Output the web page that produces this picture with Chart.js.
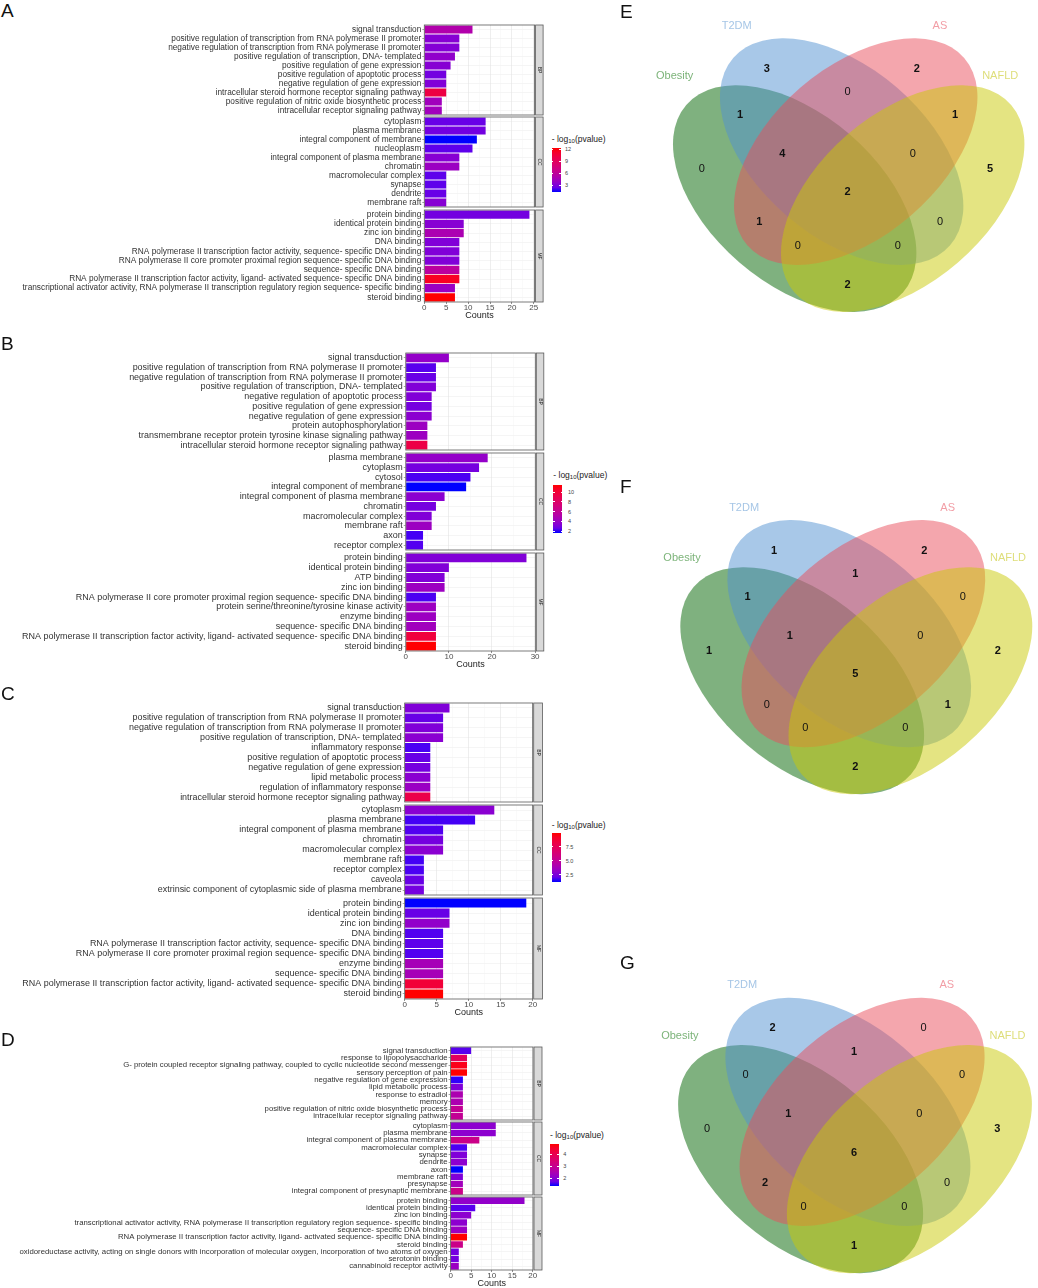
<!DOCTYPE html>
<html>
<head>
<meta charset="utf-8">
<script src="https://cdn.jsdelivr.net/npm/chart.js@4.4.1/dist/chart.umd.min.js"></script>
<style>
  body { margin: 0; width: 1038px; height: 1288px; position: relative; background: #fff; overflow: hidden;
         font-family: "Liberation Sans", Arial, Helvetica, sans-serif; }
  canvas { position: absolute; }
  .letter { position: absolute; font-size: 19px; line-height: 19px; color: #111; }
  .legt { position: absolute; font-size: 8.5px; line-height: 10px; color: #222; white-space: nowrap; }
  .legt sub { font-size: 6px; vertical-align: -1px; }
  .bar { position: absolute; }
  .legn { position: absolute; font-size: 5.5px; line-height: 6px; color: #444; }
  .wt { position: absolute; height: 0.6px; background: #fff; }
</style>
</head>
<body>
<script>
const FONT = '"Liberation Sans", Arial, Helvetica, sans-serif';
Chart.defaults.font.family = FONT;

// ---------- panel A ----------
const aBP = ['signal transduction', 'positive regulation of transcription from RNA polymerase II promoter',
  'negative regulation of transcription from RNA polymerase II promoter', 'positive regulation of transcription, DNA- templated',
  'positive regulation of gene expression', 'positive regulation of apoptotic process', 'negative regulation of gene expression',
  'intracellular steroid hormone receptor signaling pathway', 'positive regulation of nitric oxide biosynthetic process',
  'intracellular receptor signaling pathway'];
const aBPn = [11, 8, 8, 7, 6, 5, 5, 5, 4, 4];
const aBPp = [5.2, 3.3, 3.2, 3.7, 3.3, 2.7, 3.1, 10.2, 4.4, 4.4];
const aCC = ['cytoplasm', 'plasma membrane', 'integral component of membrane', 'nucleoplasm', 'integral component of plasma membrane',
  'chromatin', 'macromolecular complex', 'synapse', 'dendrite', 'membrane raft'];
const aCCn = [14, 14, 12, 11, 8, 8, 5, 5, 5, 5];
const aCCp = [2.4, 2.7, 1.3, 2.2, 3.3, 4.1, 2.2, 2.2, 2.4, 3.3];
const aMF = ['protein binding', 'identical protein binding', 'zinc ion binding', 'DNA binding',
  'RNA polymerase II transcription factor activity, sequence- specific DNA binding',
  'RNA polymerase II core promoter proximal region sequence- specific DNA binding', 'sequence- specific DNA binding',
  'RNA polymerase II transcription factor activity, ligand- activated sequence- specific DNA binding',
  'transcriptional activator activity, RNA polymerase II transcription regulatory region sequence- specific binding', 'steroid binding'];
const aMFn = [24, 9, 9, 8, 8, 8, 8, 8, 7, 7];
const aMFp = [2.7, 3.3, 4.9, 3.1, 3.1, 3.1, 5.8, 11.6, 4.1, 12.4];
const aLegend = ['3', '6', '9', '12'];

// ---------- panel B ----------
const bBP = ['signal transduction', 'positive regulation of transcription from RNA polymerase II promoter',
  'negative regulation of transcription from RNA polymerase II promoter', 'positive regulation of transcription, DNA- templated',
  'negative regulation of apoptotic process', 'positive regulation of gene expression', 'negative regulation of gene expression',
  'protein autophosphorylation', 'transmembrane receptor protein tyrosine kinase signaling pathway',
  'intracellular steroid hormone receptor signaling pathway'];
const bBPn = [10, 7, 7, 7, 6, 6, 6, 5, 5, 5];
const bBPp = [3.8, 2.3, 2.6, 3.2, 3.2, 2.9, 3.5, 4.1, 4.1, 9.4];
const bCC = ['plasma membrane', 'cytoplasm', 'cytosol', 'integral component of membrane', 'integral component of plasma membrane',
  'chromatin', 'macromolecular complex', 'membrane raft', 'axon', 'receptor complex'];
const bCCn = [19, 17, 15, 14, 9, 7, 6, 6, 4, 4];
const bCCp = [3.8, 2.9, 2.1, 1.6, 3.5, 2.9, 3.2, 4.1, 2.0, 2.2];
const bMF = ['protein binding', 'identical protein binding', 'ATP binding', 'zinc ion binding',
  'RNA polymerase II core promoter proximal region sequence- specific DNA binding', 'protein serine/threonine/tyrosine kinase activity',
  'enzyme binding', 'sequence- specific DNA binding',
  'RNA polymerase II transcription factor activity, ligand- activated sequence- specific DNA binding', 'steroid binding'];
const bMFn = [28, 10, 9, 9, 7, 7, 7, 7, 7, 7];
const bMFp = [3.2, 3.2, 3.2, 4.1, 2.1, 4.1, 4.1, 4.3, 9.7, 11.4];
const bLegend = ['2', '4', '6', '8', '10'];

// ---------- panel C ----------
const cBP = ['signal transduction', 'positive regulation of transcription from RNA polymerase II promoter',
  'negative regulation of transcription from RNA polymerase II promoter', 'positive regulation of transcription, DNA- templated',
  'inflammatory response', 'positive regulation of apoptotic process', 'negative regulation of gene expression',
  'lipid metabolic process', 'regulation of inflammatory response', 'intracellular steroid hormone receptor signaling pathway'];
const cBPn = [7, 6, 6, 6, 4, 4, 4, 4, 4, 4];
const cBPp = [2.63, 2.12, 2.63, 2.89, 1.68, 2.12, 2.37, 2.89, 3.41, 7.99];
const cCC = ['cytoplasm', 'plasma membrane', 'integral component of plasma membrane', 'chromatin', 'macromolecular complex',
  'membrane raft', 'receptor complex', 'caveola', 'extrinsic component of cytoplasmic side of plasma membrane'];
const cCCn = [14, 11, 6, 6, 6, 3, 3, 3, 3];
const cCCp = [2.89, 1.6, 1.77, 2.37, 2.89, 1.6, 1.68, 2.12, 2.37];
const cMF = ['protein binding', 'identical protein binding', 'zinc ion binding', 'DNA binding',
  'RNA polymerase II transcription factor activity, sequence- specific DNA binding',
  'RNA polymerase II core promoter proximal region sequence- specific DNA binding', 'enzyme binding', 'sequence- specific DNA binding',
  'RNA polymerase II transcription factor activity, ligand- activated sequence- specific DNA binding', 'steroid binding'];
const cMFn = [19, 7, 7, 6, 6, 6, 6, 6, 6, 6];
const cMFp = [1.25, 2.12, 3.15, 1.77, 1.94, 1.77, 3.85, 3.85, 8.6, 9.9];
const cLegend = ['2.5', '5.0', '7.5'];

// ---------- panel D ----------
const dBP = ['signal transduction', 'response to lipopolysaccharide',
  'G- protein coupled receptor signaling pathway, coupled to cyclic nucleotide second messenger', 'sensory perception of pain',
  'negative regulation of gene expression', 'lipid metabolic process', 'response to estradiol', 'memory',
  'positive regulation of nitric oxide biosynthetic process', 'intracellular receptor signaling pathway'];
const dBPn = [5, 4, 4, 4, 3, 3, 3, 3, 3, 3];
const dBPp = [1.64, 3.82, 4.69, 4.86, 1.47, 1.95, 2.54, 2.54, 2.96, 2.96];
const dCC = ['cytoplasm', 'plasma membrane', 'integral component of plasma membrane', 'macromolecular complex', 'synapse',
  'dendrite', 'axon', 'membrane raft', 'presynapse', 'integral component of presynaptic membrane'];
const dCCn = [11, 11, 7, 4, 4, 4, 3, 3, 3, 3];
const dCCp = [2.09, 2.09, 3.13, 1.57, 1.95, 2.09, 1.4, 1.95, 2.37, 3.13];
const dMF = ['protein binding', 'identical protein binding', 'zinc ion binding',
  'transcriptional activator activity, RNA polymerase II transcription regulatory region sequence- specific binding',
  'sequence- specific DNA binding',
  'RNA polymerase II transcription factor activity, ligand- activated sequence- specific DNA binding', 'steroid binding',
  'oxidoreductase activity, acting on single donors with incorporation of molecular oxygen, incorporation of two atoms of oxygen',
  'serotonin binding', 'cannabinoid receptor activity'];
const dMFn = [18, 6, 5, 4, 4, 4, 3, 2, 2, 2];
const dMFp = [2.16, 1.64, 2.09, 2.09, 2.27, 4.86, 3.13, 1.85, 1.85, 2.27];
const dLegend = ['2', '3', '4'];

// ---------- Venn counts ----------
// region order: T2DM, AS, Obesity, NAFLD only; T2DM&AS; Obesity&T2DM; AS&NAFLD; Ob&T2DM&AS; T2DM&AS&NAFLD;
// all four; Ob&AS; T2DM&NAFLD; Ob&AS&NAFLD; Ob&T2DM&NAFLD; Ob&NAFLD
const vennSets = ['Obesity', 'T2DM', 'AS', 'NAFLD'];
const vennE = [3, 2, 0, 5, 0, 1, 1, 4, 0, 2, 1, 0, 0, 0, 2];
const vennF = [1, 2, 1, 2, 1, 1, 0, 1, 0, 5, 0, 1, 0, 0, 2];
const vennG = [2, 0, 0, 3, 1, 0, 0, 1, 0, 6, 2, 0, 0, 0, 1];

// ---------- layout ----------
const LAY = {
  A: { plotL: 424.3, plotR: 534.6, stripR: 543.1, xMax: 25.18, step: 2.5, major: 5, labelStart: 21.5,
       facets: [[25, 115], [117.3, 207.3], [210, 300.7]], letterTop: 0.8,
       leg: { x: 551.7, top: 147.7, bot: 192.3, titleY: 139, tickX: 565 } },
  B: { plotL: 405.8, plotR: 535.3, stripR: 543.8, xMax: 30.05, step: 5, major: 10, labelStart: 21.5,
       facets: [[353.3, 450], [453.3, 550], [553.3, 650]], letterTop: 334,
       leg: { x: 553.3, top: 485, bot: 533.3, titleY: 475, tickX: 568 } },
  C: { plotL: 404.7, plotR: 532.7, stripR: 542.4, xMax: 20, step: 2.5, major: 5, labelStart: 22.2,
       facets: [[702.7, 802], [805.3, 895.3], [898, 998]], letterTop: 684,
       leg: { x: 551.7, top: 833.3, bot: 881.7, titleY: 825, tickX: 565.7 } },
  D: { plotL: 450.6, plotR: 533, stripR: 542, xMax: 20.07, step: 2.5, major: 5, labelStart: 19.2,
       facets: [[1047.3, 1120], [1122, 1194.7], [1196.7, 1269.3]], letterTop: 1029.5,
       leg: { x: 550, top: 1144, bot: 1185.7, titleY: 1135, tickX: 563.3 } }
};
const VLAY = {
  E: { left: 630, top: 0, w: 408, h: 330, cx: 848.7, y17: 311.7, s: 391.4, letterTop: 1.5 },
  F: { left: 630, top: 470, w: 408, h: 340, cx: 856.3, y17: 794, s: 392, letterTop: 476.5 },
  G: { left: 630, top: 960, w: 408, h: 328, cx: 855, y17: 1273, s: 394, letterTop: 952.5 }
};
const VENN_FILL = ['rgba(0,100,0,0.5)', 'rgba(81,145,209,0.5)', 'rgba(233,77,91,0.5)', 'rgba(201,201,5,0.5)'];
const VENN_TEXT = ['#7db47a', '#a6c6e6', '#f29ea6', '#dede7a'];
// centre x, centre y, tilt sign (+1 = "\" , -1 = "/")
const ELLIPSES = [[0.362, 0.459, 1], [0.482, 0.579, 1], [0.518, 0.579, -1], [0.638, 0.459, -1]];
const EA = 0.366, EB = 0.216, TILT = 40.8 * Math.PI / 180;
const CAT_XY = [[0.0554, 0.771], [0.2138, 0.9], [0.733, 0.9], [0.887, 0.771]];
const REGION_XY = [[0.2905, 0.7908], [0.6738, 0.7908], [0.1244, 0.5346], [0.8612, 0.5346], [0.4974, 0.7319],
  [0.2223, 0.6721], [0.7717, 0.6721], [0.3305, 0.5739], [0.6635, 0.5739], [0.4974, 0.4757],
  [0.2717, 0.398], [0.7334, 0.398], [0.3697, 0.3382], [0.6252, 0.3382], [0.4974, 0.2383]];

// blue -> red in Lab space, like ggplot's gradient
function lin(c) { c /= 255; return c <= 0.04045 ? c / 12.92 : Math.pow((c + 0.055) / 1.055, 2.4); }
function gam(c) { const v = c <= 0.0031308 ? 12.92 * c : 1.055 * Math.pow(c, 1 / 2.4) - 0.055; return Math.round(Math.max(0, Math.min(1, v)) * 255); }
function toLab(r, g, b) {
  const R = lin(r), G = lin(g), B = lin(b);
  const X = (0.4124 * R + 0.3576 * G + 0.1805 * B) / 0.95047, Y = 0.2126 * R + 0.7152 * G + 0.0722 * B,
        Z = (0.0193 * R + 0.1192 * G + 0.9505 * B) / 1.08883;
  const f = t => t > 0.008856 ? Math.cbrt(t) : 7.787 * t + 16 / 116;
  return [116 * f(Y) - 16, 500 * (f(X) - f(Y)), 200 * (f(Y) - f(Z))];
}
function fromLab(L, a, b) {
  const fy = (L + 16) / 116, fx = fy + a / 500, fz = fy - b / 200;
  const fi = t => t * t * t > 0.008856 ? t * t * t : (t - 16 / 116) / 7.787;
  const X = fi(fx) * 0.95047, Y = fi(fy), Z = fi(fz) * 1.08883;
  return 'rgb(' + gam(3.2406 * X - 1.5372 * Y - 0.4986 * Z) + ',' + gam(-0.9689 * X + 1.8758 * Y + 0.0415 * Z) + ',' +
         gam(0.0557 * X - 0.2040 * Y + 1.0570 * Z) + ')';
}
const LOW = toLab(0, 0, 255), HIGH = toLab(255, 0, 0);
function gradient(t) {
  return fromLab(LOW[0] + (HIGH[0] - LOW[0]) * t, LOW[1] + (HIGH[1] - LOW[1]) * t, LOW[2] + (HIGH[2] - LOW[2]) * t);
}

const mctx = document.createElement('canvas').getContext('2d');
function fitFont(labels, width) {
  mctx.font = '10px ' + FONT;
  const w = Math.max(...labels.map(l => mctx.measureText(l).width));
  return 10 * width / w;
}

function addDiv(cls, left, top, html) {
  const d = document.createElement('div');
  d.className = cls; d.style.left = left + 'px'; d.style.top = top + 'px';
  if (html !== undefined) d.innerHTML = html;
  document.body.appendChild(d);
  return d;
}

const facetFrame = (name, stripW) => ({
  id: 'frame',
  afterDatasetsDraw(chart) {
    const { ctx, chartArea: a } = chart;
    ctx.save();
    ctx.strokeStyle = '#5a5a5a'; ctx.lineWidth = 0.8;
    ctx.strokeRect(a.left, a.top, a.right - a.left, a.bottom - a.top);
    const sx = a.right + 1;
    ctx.fillStyle = '#d9d9d9';
    ctx.fillRect(sx, a.top, stripW, a.bottom - a.top);
    ctx.strokeRect(sx, a.top, stripW, a.bottom - a.top);
    ctx.translate(sx + stripW / 2, (a.top + a.bottom) / 2);
    ctx.rotate(Math.PI / 2);
    ctx.fillStyle = '#1a1a1a'; ctx.font = '5px ' + FONT;
    ctx.textAlign = 'center'; ctx.textBaseline = 'middle';
    ctx.fillText(name, 0, 0);
    ctx.restore();
  }
});

function facetChart(P, f, i, last, fs, lo, hi) {
  const [t0, t1] = P.facets[i];
  const cv = document.createElement('canvas');
  cv.width = Math.ceil(P.stripR + 2);
  cv.height = Math.round(t1) - Math.round(t0) + 2 + (last ? 19 : 0);
  cv.style.left = '0px'; cv.style.top = (Math.round(t0) - 1) + 'px';
  document.body.appendChild(cv);
  const isMajor = v => Math.abs(v / P.major - Math.round(v / P.major)) < 1e-6;
  const isStep = v => Math.abs(v / P.step - Math.round(v / P.step)) < 1e-6;
  new Chart(cv, {
    type: 'bar',
    data: {
      labels: f.t,
      datasets: [{ data: f.n, backgroundColor: f.p.map(v => gradient((v - lo) / (hi - lo))),
                   borderWidth: 0, barPercentage: 0.9, categoryPercentage: 1 }]
    },
    options: {
      indexAxis: 'y', responsive: false, animation: false, events: [],
      layout: { padding: { top: 1, bottom: last ? 0 : 1, left: 0, right: cv.width - P.plotR } },
      plugins: { legend: { display: false }, tooltip: { enabled: false } },
      scales: {
        y: {
          type: 'category', offset: true,
          grid: { offset: false, color: '#ebebeb', lineWidth: 0.5, tickLength: 2, tickColor: '#444' },
          border: { display: false },
          ticks: { autoSkip: false, font: { size: fs, lineHeight: 1 }, color: '#333', padding: 1 },
          afterFit: s => { s.width = P.plotL; s.paddingTop = 0; s.paddingBottom = 0; }
        },
        x: {
          type: 'linear', min: 0, max: P.xMax,
          grid: {
            color: c => !isStep(c.tick.value) ? 'rgba(0,0,0,0)' : isMajor(c.tick.value) ? '#e2e2e2' : '#f2f2f2',
            lineWidth: c => isMajor(c.tick.value) ? 0.6 : 0.4,
            drawTicks: last, tickLength: 2,
            tickColor: c => isMajor(c.tick.value) ? '#444' : 'rgba(0,0,0,0)'
          },
          border: { display: false },
          ticks: {
            display: last, stepSize: P.step, includeBounds: false, autoSkip: false, maxRotation: 0,
            font: { size: 8, lineHeight: 1 }, color: '#4d4d4d', padding: 0,
            callback: v => isMajor(v) ? v : ''
          },
          title: { display: last, text: 'Counts', color: '#222', font: { size: 9, lineHeight: 1.2 }, padding: { top: 0, bottom: 0 } },
          afterFit: s => { s.height = last ? 19 : 0; s.paddingLeft = 0; s.paddingRight = 0; }
        }
      }
    },
    plugins: [facetFrame(f.name, P.stripR - P.plotR - 1)]
  });
}

function legend(P, lo, hi, ticks) {
  const L = P.leg;
  addDiv('legt', L.x, L.titleY - 5, '- log<sub>10</sub>(pvalue)');
  const bar = addDiv('bar', L.x, L.top);
  const stops = [];
  for (let k = 0; k <= 10; k++) stops.push(gradient(k / 10));
  bar.style.width = '9px'; bar.style.height = (L.bot - L.top) + 'px';
  bar.style.background = 'linear-gradient(to top, ' + stops.join(',') + ')';
  ticks.forEach(s => {
    const y = L.bot - (parseFloat(s) - lo) / (hi - lo) * (L.bot - L.top);
    addDiv('legn', L.tickX, y - 3, s);
    [0, 7.2].forEach(dx => { const w = addDiv('wt', L.x + dx, y - 0.3); w.style.width = '1.8px'; });
  });
}

function panel(key, facets, ticks) {
  const P = LAY[key];
  const all = facets.flatMap(f => f.p);
  const lo = Math.min(...all), hi = Math.max(...all);
  const fs = fitFont(facets.flatMap(f => f.t), P.plotL - 3 - P.labelStart);
  facets.forEach((f, i) => facetChart(P, f, i, i === facets.length - 1, fs, lo, hi));
  legend(P, lo, hi, ticks);
  addDiv('letter', 1, P.letterTop, key);
}

panel('A', [{ name: 'BP', t: aBP, n: aBPn, p: aBPp }, { name: 'CC', t: aCC, n: aCCn, p: aCCp }, { name: 'MF', t: aMF, n: aMFn, p: aMFp }], aLegend);
panel('B', [{ name: 'BP', t: bBP, n: bBPn, p: bBPp }, { name: 'CC', t: bCC, n: bCCn, p: bCCp }, { name: 'MF', t: bMF, n: bMFn, p: bMFp }], bLegend);
panel('C', [{ name: 'BP', t: cBP, n: cBPn, p: cBPp }, { name: 'CC', t: cCC, n: cCCn, p: cCCp }, { name: 'MF', t: cMF, n: cMFn, p: cMFp }], cLegend);
panel('D', [{ name: 'BP', t: dBP, n: dBPn, p: dBPp }, { name: 'CC', t: dCC, n: dCCn, p: dCCp }, { name: 'MF', t: dMF, n: dMFn, p: dMFp }], dLegend);

// ---------- Venn diagrams ----------
const vennDraw = counts => ({
  id: 'venn',
  beforeDatasetsDraw(chart) {
    const { ctx, scales: { x, y } } = chart;
    const ux = x.getPixelForValue(1) - x.getPixelForValue(0);
    const uy = y.getPixelForValue(0) - y.getPixelForValue(1);
    ctx.save();
    ELLIPSES.forEach(([ex, ey, dir], i) => {
      ctx.beginPath();
      ctx.ellipse(x.getPixelForValue(ex), y.getPixelForValue(ey), EA * ux, EB * uy, dir * TILT, 0, 2 * Math.PI);
      ctx.fillStyle = VENN_FILL[i];
      ctx.fill();
    });
    ctx.font = '11px ' + FONT; ctx.textAlign = 'center'; ctx.textBaseline = 'middle';
    vennSets.forEach((s, i) => {
      ctx.fillStyle = VENN_TEXT[i];
      ctx.fillText(s, x.getPixelForValue(CAT_XY[i][0]), y.getPixelForValue(CAT_XY[i][1]));
    });
    ctx.restore();
  },
  afterDatasetsDraw(chart) {
    const { ctx } = chart;
    const pts = chart.getDatasetMeta(0).data;
    ctx.save();
    ctx.textAlign = 'center'; ctx.textBaseline = 'middle'; ctx.fillStyle = '#111';
    pts.forEach((p, i) => {
      ctx.font = (counts[i] ? 'bold ' : '') + '11px ' + FONT;
      ctx.fillText(String(counts[i]), p.x, p.y);
    });
    ctx.restore();
  }
});

function venn(key, counts) {
  const V = VLAY[key];
  const cv = document.createElement('canvas');
  cv.width = V.w; cv.height = V.h;
  cv.style.left = V.left + 'px'; cv.style.top = V.top + 'px';
  document.body.appendChild(cv);
  const xmin = 0.5 - (V.cx - V.left) / V.s, xmax = xmin + V.w / V.s;
  const ymax = 0.17 + (V.y17 - V.top) / V.s, ymin = ymax - V.h / V.s;
  new Chart(cv, {
    type: 'scatter',
    data: { datasets: [{ data: REGION_XY.map(p => ({ x: p[0], y: p[1] })), pointRadius: 0 }] },
    options: {
      responsive: false, animation: false, events: [], layout: { padding: 0 },
      plugins: { legend: { display: false }, tooltip: { enabled: false } },
      scales: {
        x: { type: 'linear', min: xmin, max: xmax, display: false },
        y: { type: 'linear', min: ymin, max: ymax, display: false }
      }
    },
    plugins: [vennDraw(counts)]
  });
  addDiv('letter', 620, V.letterTop, key);
}

venn('E', vennE);
venn('F', vennF);
venn('G', vennG);
</script>
</body>
</html>
